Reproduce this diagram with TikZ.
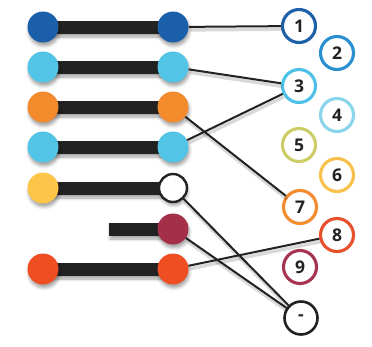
\documentclass[tikz,border=0pt]{standalone}
\usepackage{fontspec}
\setmainfont{Open Sans}
\usetikzlibrary{shadows.blur}

\definecolor{navy}{HTML}{1B5EA9}
\definecolor{sky}{HTML}{52C4E6}
\definecolor{tang}{HTML}{F38B2D}
\definecolor{sun}{HTML}{FEC648}
\definecolor{wine}{HTML}{A52F48}
\definecolor{flame}{HTML}{EF4E23}
\definecolor{kA}{HTML}{1D5FA8}
\definecolor{kB}{HTML}{2A8FD0}
\definecolor{kC}{HTML}{4EC1E8}
\definecolor{kD}{HTML}{8AD4EC}
\definecolor{kE}{HTML}{CDCD68}
\definecolor{kF}{HTML}{F9C04B}
\definecolor{kG}{HTML}{F28C2E}
\definecolor{kH}{HTML}{E9502C}
\definecolor{kI}{HTML}{A6344E}
\definecolor{ink}{HTML}{222222}

\begin{document}
\begin{tikzpicture}[x=1pt,y=-1pt,
  soft/.style={blur shadow={shadow xshift=1pt, shadow yshift=-3.5pt,
      shadow opacity=35, shadow blur radius=3pt}},
  dot/.style={circle, minimum size=31pt, inner sep=0pt, fill=#1, soft},
  hollow/.style={circle, minimum size=28pt, inner sep=0pt, fill=white,
      draw=ink, line width=2.4pt, soft},
  barbox/.style={rectangle, minimum height=13pt, inner sep=0pt,
      fill=ink, soft},
  num/.style={circle, draw=#1, line width=3.1pt, fill=white,
      minimum size=33pt, inner sep=0pt, text=ink,
      font=\bfseries\fontsize{17.5}{17.5}\selectfont},
  link/.style={line width=2pt, draw=ink,
      preaction={draw=black, draw opacity=0.15, line width=3.5pt,
        transform canvas={xshift=1pt, yshift=-3pt}}}
]
\useasboundingbox (0,0) rectangle (372,346);

% bars
\node[barbox, minimum width=130pt] (b1) at (108,27) {};
\node[barbox, minimum width=130pt] (b2) at (108,67) {};
\node[barbox, minimum width=130pt] (b3) at (108,107) {};
\node[barbox, minimum width=130pt] (b4) at (108,147) {};
\node[barbox, minimum width=130pt] (b5) at (108,188) {};
\node[barbox, minimum width=64pt]  (b6) at (141,229) {};
\node[barbox, minimum width=130pt] (b7) at (108,269) {};

% end points of the bars
\node[dot=navy]  (l1) at (43,27) {};
\node[dot=navy]  (r1) at (173,27) {};
\node[dot=sky]   (l2) at (43,67) {};
\node[dot=sky]   (r2) at (173,67) {};
\node[dot=tang]  (l3) at (43,107) {};
\node[dot=tang]  (r3) at (173,107) {};
\node[dot=sky]   (l4) at (43,147) {};
\node[dot=sky]   (r4) at (173,147) {};
\node[dot=sun]   (l5) at (43,188) {};
\node[hollow]    (r5) at (173,188) {};
\node[dot=wine]  (r6) at (173,229) {};
\node[dot=flame] (l7) at (43,269) {};
\node[dot=flame] (r7) at (173,269) {};

% numbered targets
\node[num=kA] (n1) at (299,26) {1};
\node[num=kB] (n2) at (337,53) {2};
\node[num=kC] (n3) at (299,86) {3};
\node[num=kD] (n4) at (337,115) {4};
\node[num=kE] (n5) at (299,145) {5};
\node[num=kF] (n6) at (337,175) {6};
\node[num=kG] (n7) at (300,207) {7};
\node[num=kH] (n8) at (337,235) {8};
\node[num=kI] (n9) at (300,267) {9};
\node[num=ink, line width=2.6pt] (n0) at (301,318) {-};

% connectors
\draw[link] (r1) -- (n1);
\draw[link] (r2) -- (n3);
\draw[link] (r4) -- (n3);
\draw[link] (r3) -- (n7);
\draw[link] (r5) -- (n0);
\draw[link] (r6) -- (n0);
\draw[link] (r7) -- (n8);
\end{tikzpicture}
\end{document}
